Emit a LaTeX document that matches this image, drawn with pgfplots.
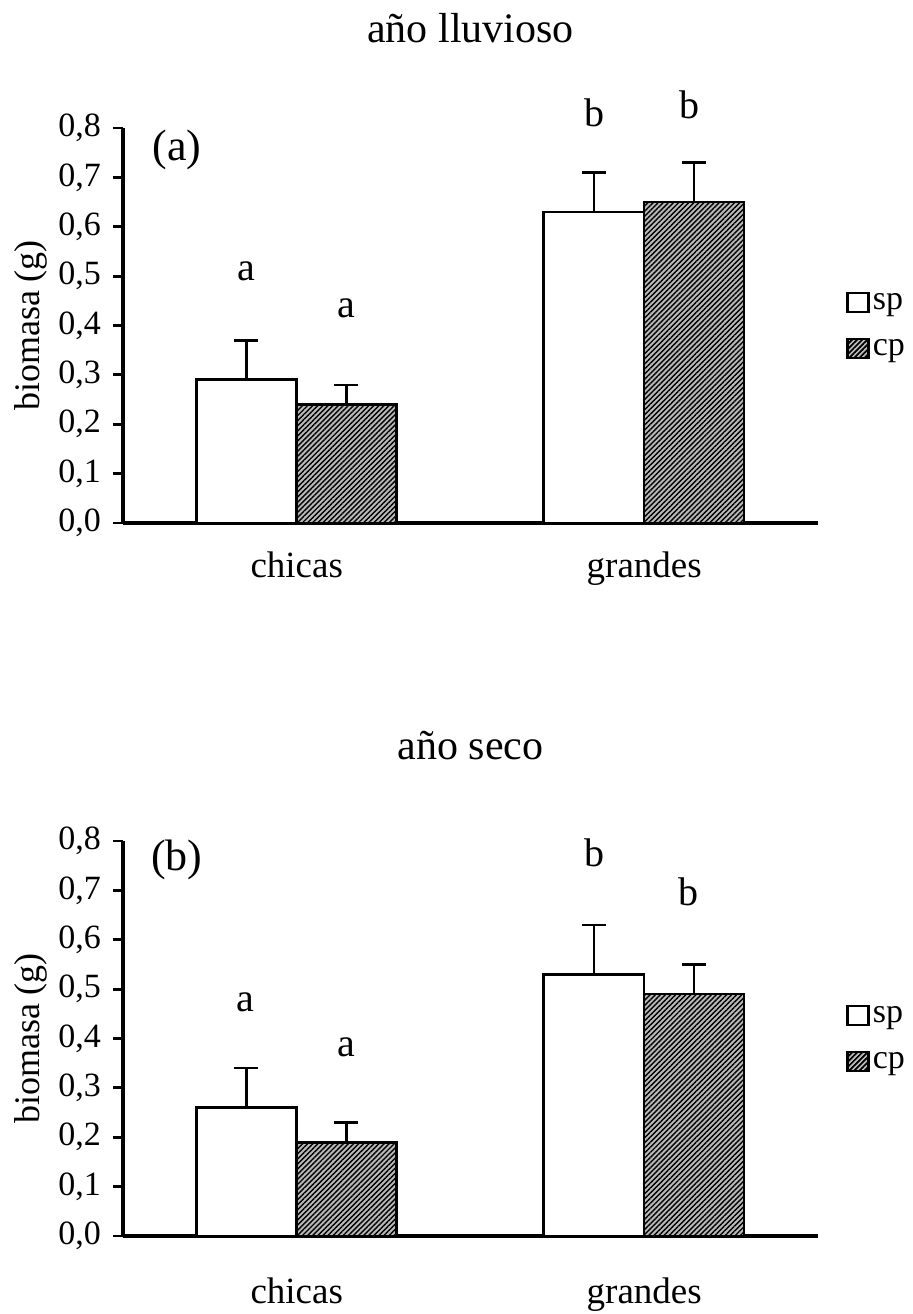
\documentclass[border=0pt]{standalone}
\usepackage{fontspec}
\setmainfont{Liberation Serif}
\usepackage{pgfplots}
\pgfplotsset{compat=1.18}
\usepackage{pgfplotstable}
\usetikzlibrary{patterns.meta}

\pgfplotstableread{
x y e
0.355 0.29 0.08
1.355 0.63 0.08
}\spA
\pgfplotstableread{
x y e
0.643 0.24 0.04
1.643 0.65 0.08
}\cpA
\pgfplotstableread{
x y e
0.355 0.26 0.08
1.355 0.53 0.10
}\spB
\pgfplotstableread{
x y e
0.643 0.19 0.04
1.643 0.49 0.06
}\cpB

\pgfplotsset{
  panel/.style={
    scale only axis, width=347.5pt, height=197.5pt,
    anchor=south west,
    xmin=0, xmax=2, ymin=0, ymax=0.8,
    axis x line*=bottom, axis y line*=left,
    axis line style={line width=1.6pt, -},
    ytick={0,0.1,...,0.8},
    yticklabel style={font=\fontsize{17}{20}\selectfont, xshift=-2.5pt},
    /pgf/number format/.cd, use comma, fixed, fixed zerofill, precision=1, assume math mode=true,
    /pgfplots/.cd,
    tick align=outside,
    major tick length=5pt,
    tick style={line width=1.4pt, black},
    xtick={0.5,1.5},
    xticklabels={chicas,grandes},
    x tick style={draw=none},
    extra x ticks={0,1,2},
    extra x tick labels={},
    extra x tick style={major tick length=6pt, tick style={line width=1.4pt, black, draw=black}},
    ylabel={biomasa (g)},
    ylabel style={font=\fontsize{18}{21}\selectfont, at={(axis description cs:-0.132,0.5)}, anchor=center},
    title style={font=\fontsize{21}{25}\selectfont, at={(0.5,1)}, anchor=base},
    ybar, bar width=0.288, bar shift=0pt,
    clip=false,
    legend style={font=\fontsize{17}{20}\selectfont, draw=none, fill=none,
      at={(1.04,0.5)}, anchor=west, row sep=9.5pt, inner sep=0pt,
      nodes={inner xsep=1.5pt}},
    legend cell align=left,
  },
  spbar/.style={draw=black, line width=1.4pt, fill=white,
    error bars/.cd, y dir=plus, y explicit,
    error bar style={line width=1.2pt, black},
    error mark options={rotate=90, line width=1.2pt, mark size=6pt, black},
    /pgfplots/.cd,
    legend image code/.code={\draw[draw=black, line width=1.3pt, fill=white] (0pt,-4.75pt) rectangle (10.5pt,4.75pt);}},
  cpbar/.style={draw=black, line width=1.4pt, fill=gray!55,
    postaction={pattern={Lines[angle=45,distance=1.8pt,line width=0.7pt]}, pattern color=black},
    error bars/.cd, y dir=plus, y explicit,
    error bar style={line width=1.2pt, black},
    error mark options={rotate=90, line width=1.2pt, mark size=6pt, black},
    /pgfplots/.cd,
    legend image code/.code={\draw[draw=black, line width=1.3pt, fill=gray!55,
      postaction={pattern={Lines[angle=45,distance=1.8pt,line width=0.7pt]}, pattern color=black}] (0pt,-4.75pt) rectangle (10.5pt,4.75pt);}},
}

\begin{document}
\begin{tikzpicture}
\useasboundingbox (0pt,0pt) rectangle (456pt,-657pt);

\begin{axis}[panel, at={(61.5pt,-261.5pt)},
  title={año lluvioso}, title style={yshift=37pt},
  xticklabel style={font=\fontsize{18.5}{22}\selectfont, anchor=base, yshift=-22pt}]
\addplot[spbar] table[x=x, y=y, y error=e] {\spA};
\addlegendentry{sp}
\addplot[cpbar] table[x=x, y=y, y error=e] {\cpA};
\addlegendentry{cp}
\node[font=\fontsize{22}{26}\selectfont] at (axis cs:0.155,0.755) {(a)};
\node[font=\fontsize{20}{24}\selectfont] at (axis cs:0.355,0.51) {a};
\node[font=\fontsize{20}{24}\selectfont] at (axis cs:0.643,0.435) {a};
\node[font=\fontsize{20}{24}\selectfont] at (axis cs:1.358,0.83) {b};
\node[font=\fontsize{20}{24}\selectfont] at (axis cs:1.63,0.846) {b};
\end{axis}

\begin{axis}[panel, at={(61.5pt,-618pt)},
  title={año seco}, title style={yshift=35pt},
  xticklabel style={font=\fontsize{18.5}{22}\selectfont, anchor=base, yshift=-28.5pt}]
\addplot[spbar] table[x=x, y=y, y error=e] {\spB};
\addlegendentry{sp}
\addplot[cpbar] table[x=x, y=y, y error=e] {\cpB};
\addlegendentry{cp}
\node[font=\fontsize{22}{26}\selectfont] at (axis cs:0.155,0.762) {(b)};
\node[font=\fontsize{20}{24}\selectfont] at (axis cs:0.351,0.474) {a};
\node[font=\fontsize{20}{24}\selectfont] at (axis cs:0.643,0.383) {a};
\node[font=\fontsize{20}{24}\selectfont] at (axis cs:1.358,0.776) {b};
\node[font=\fontsize{20}{24}\selectfont] at (axis cs:1.626,0.697) {b};
\end{axis}
\end{tikzpicture}
\end{document}
